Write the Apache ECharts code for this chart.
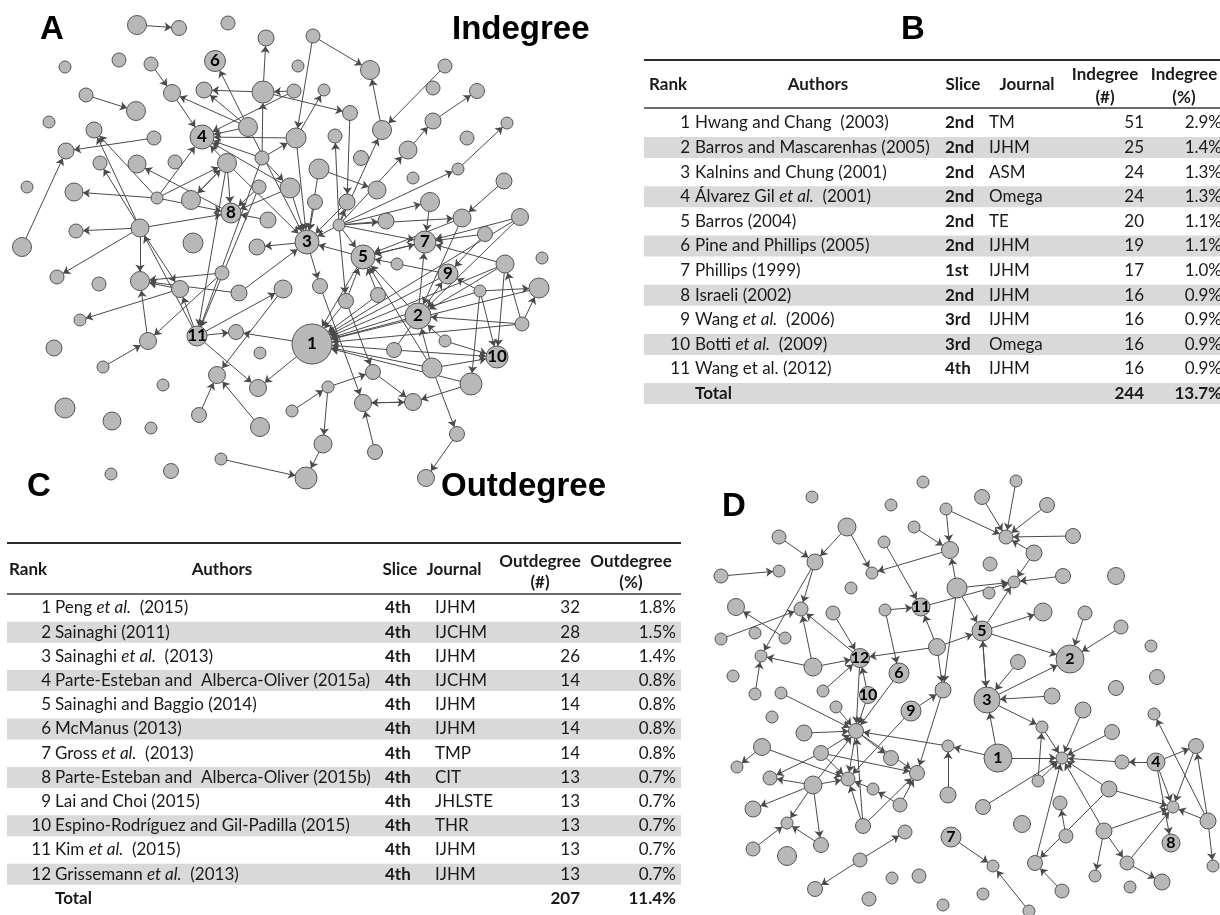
<!DOCTYPE html>
<html>
<head>
<meta charset="utf-8">
<script src="https://cdn.jsdelivr.net/npm/echarts@6/dist/echarts.min.js"></script>
<style>
  html, body { margin: 0; padding: 0; background: #ffffff; }
  #chart { width: 1220px; height: 915px; }
</style>
</head>
<body>
<div id="chart"></div>
<script>
// ---------------- Network A (indegree view): node layout [x, y, radius, label] ----------------
const nodesA = [
  [137,25,9.5],[179,28,7.5],[228,23,7],[266,38,8],[313,36,7],[370,70,9.5],[65,67,6],[119,60,7],[151,64,7],[215,61,10.5,'6'],
  [298,66,6],[445,66,7],[86,95,7],[136,111,9.5],[172,93,8.5],[204,90,8],[263,92,11],[294,91,7],[324,90,6],[433,88,7],
  [477,91,7.5],[49,122,6],[94,130,8],[202,137,12,'4'],[154,138,7],[248,127,9.5],[296,138,10],[335,136,7],[350,113,7.5],[382,130,9.5],
  [433,121,8],[507,123,6],[66,151,8],[100,163,7],[137,164,9],[175,162,7],[227,163,9.5],[262,158,7],[319,169,10],[361,158,7.5],
  [408,150,9],[467,138,7],[27,187,6],[74,192,9],[157,198,6],[191,200,9.5],[231,213,10,'8'],[259,187,7],[290,188,10],[413,178,6],
  [458,169,6],[504,181,8],[76,231,7],[140,228,9],[268,220,8],[315,202,7.5],[347,202,8],[377,190,9],[430,202,9.5],[339,225,6],
  [386,221,8],[462,218,9],[520,217,8.5],[485,234,7.5],[307,242,12,'3'],[425,242,11,'7'],[22,247,9.5],[193,243,10],[257,247,8],[363,257,12,'5'],
  [397,264,6],[448,274,10,'9'],[505,264,9],[542,258,6],[57,277,7],[99,284,7],[140,281,9.5],[180,289,8.5],[222,273,7],[239,293,8],
  [283,289,9],[320,286,7.5],[346,301,7.5],[378,295,7.5],[480,291,6],[539,288,10],[418,316,13,'2'],[522,324,7],[80,320,6],[148,341,8.5],
  [197,336,10,'11'],[236,332,7.5],[312,344,20,'1'],[394,350,7.5],[445,341,6],[497,357,11,'10'],[54,348,8],[260,353,6],[103,367,6],[217,375,8.5],
  [432,368,10],[373,372,7.5],[163,385,6],[258,388,8.5],[328,387,6],[471,384,11],[65,408,10],[112,421,9],[151,428,6],[199,415,7.5],
  [260,427,9.5],[292,411,6],[363,403,8.5],[413,402,8.5],[221,459,6],[111,474,6],[171,471,7.5],[306,478,11],[323,444,9],[375,452,7.5],
  [457,434,7.5],[426,478,8.5]
];
// citing -> cited
const linksA = [
  [0,1],[12,13],[8,14],[14,23],[16,15],[17,16],[25,9],[16,3],[25,14],[26,23],[37,23],[24,32],[53,22],[44,23],[44,43],[53,52],
  [44,36],[36,45],[45,36],[46,34],[44,46],[54,46],[47,46],[53,46],[53,33],[44,22],[37,16],
  [4,5],[4,26],[29,5],[11,29],[30,20],[40,30],[50,31],[59,29],[59,40],[59,50],[59,58],[59,60],[59,61],[59,65],[59,56],[59,64],
  [59,27],[28,56],[16,28],[26,18],[38,57],[51,61],[63,65],
  [66,32],[53,74],[53,76],[77,76],[78,76],[89,76],[77,88],[53,77],[90,77],[90,53],[90,91],[90,80],[90,103],[37,90],[47,90],
  [78,89],[98,89],[80,99],[92,91],[92,103],[109,99],[110,99],[114,117],[79,64],[79,76],
  [63,71],[72,65],[72,86],[72,92],[72,95],[87,72],[87,85],[87,86],[87,92],[84,85],[84,95],[84,105],[84,92],[84,71],[85,92],
  [65,69],[69,65],[71,69],[69,64],[64,81],[59,82],[59,69],[82,69],[83,69],[86,69],[86,65],[86,92],
  [100,86],[100,69],[100,95],[100,120],[120,121],[94,86],[94,95],[93,92],[83,92],[82,92],[81,112],[82,101],[101,113],
  [112,113],[113,112],[104,101],[104,118],[118,117],[119,112],[105,113],[105,92],[100,92],[93,95],[111,104],
  [71,92],[62,92],[61,86],[62,86],[58,65],[62,65],[61,69],[93,71],[69,92],
  [48,64],[55,64],[56,64],[26,64],[25,64],[36,64],[38,64],[17,23],[36,23],[25,23],[48,23],[36,46],[48,46],[36,90],
  [37,48],[37,26],[25,15],[64,68]
];

// ---------------- Network D (outdegree view): node layout [x, y, radius, label] ----------------
const nodesD = [
  [812,497,6],[891,505,6],[923,482,6],[946,509,6],[847,527,9],[779,537,7],[914,527,6],[884,542,6],[950,550,8.5],[815,562,8],
  [721,576,7],[779,571,6],[872,573,6],[851,588,6],[957,588,10],[736,607,8.5],[801,609,7],[833,613,7],[885,610,6],[921,607,9,'11'],
  [721,639,6],[755,633,6],[785,638,6],[937,647,8.5],[761,656,6],[813,667,9],[860,658,9.5,'12'],[899,673,10,'6'],[733,676,6],[755,694,6],
  [781,693,6],[823,691,6],[868,695,8.5,'10'],[943,690,8],[1016,481,6],[982,497,7.5],[1047,505,7.5],[1006,537,7],[1073,536,7.5],[1034,553,8],
  [990,564,7],[1014,582,6],[1063,576,7.5],[1116,576,8.5],[989,593,6],[1043,612,9],[1085,613,7],[982,631,10,'5'],[1121,627,7],[1151,646,6],
  [1070,659,14,'2'],[1018,662,7.5],[1157,677,7.5],[1116,688,7.5],[1052,696,8],[987,700,13,'3'],[911,711,10,'9'],[836,707,6],[772,717,6],[856,731,7.5],
  [804,733,8],[762,747,8.5],[821,753,7.5],[891,758,7.5],[948,746,6],[737,767,6],[917,773,7.5],[770,778,7],[848,779,7],[813,785,9],
  [873,789,6],[900,805,7],[948,795,8],[753,809,8],[787,823,6],[863,826,7.5],[905,832,7],[951,837,10,'7'],[753,849,7],[821,845,7.5],
  [787,856,9.5],[860,860,7],[892,878,6],[919,876,7],[815,889,7.5],[869,899,7],[943,905,6],[1083,710,8],[1154,714,6],[1042,727,6],
  [1112,732,7.5],[1196,746,7.5],[998,758,14,'1'],[1062,758,6],[1122,762,7],[1156,762,9,'4'],[1038,781,6],[1109,789,8],[983,807,7.5],[1060,803,7],
  [1173,807,6],[1022,824,8.5],[1208,821,8],[1066,836,7],[1104,831,8],[1171,843,9,'8'],[993,866,6],[1035,863,7.5],[1127,863,7],[1095,876,6],
  [1213,866,6],[1162,882,8],[1130,887,6],[983,894,6],[1062,891,7],[1029,911,6]
];
const linksD = [
  [4,9],[5,9],[4,12],[9,16],[9,24],[10,11],[7,19],[8,12],[3,8],[6,8],[18,19],[14,8],[19,41],[23,19],[23,26],[23,33],[14,33],
  [20,16],[22,15],[17,26],[25,16],[26,16],[25,24],[25,26],[31,26],[18,27],[32,26],[29,24],[26,59],[27,59],
  [34,37],[35,37],[36,37],[38,37],[3,37],[39,37],[39,41],[42,41],[14,41],[14,47],[47,41],[47,45],[47,50],[23,47],[55,47],[47,55],
  [46,50],[48,50],[51,55],[55,50],[54,55],
  [57,59],[32,59],[30,59],[60,59],[62,59],[69,59],[64,59],[56,33],[56,68],[33,66],[59,68],[59,63],[59,66],[61,65],[61,68],
  [62,67],[62,68],[62,66],[69,67],[69,68],[69,73],[69,74],[69,79],[70,68],[71,70],[71,66],[75,68],[75,66],[75,59],[78,74],
  [79,74],[72,64],[81,76],[81,84],[77,106],[115,106],
  [92,55],[92,93],[92,64],[55,89],[89,93],[87,93],[90,93],[94,93],[95,94],[95,91],[95,100],[95,105],[91,100],[102,91],[102,100],
  [102,88],[102,110],[97,93],[97,100],[97,107],[96,89],[96,93],[98,93],[103,99],[107,93],[114,107],[104,93],[104,100],[104,109],
  [104,108],[108,111],[108,100]
];

// ---------------- Table B: most cited documents ----------------
const inRanks = [1,2,3,4,5,6,7,8,9,10,11];
const inAuthors = ['Hwang and Chang  (2003)','Barros and Mascarenhas (2005)','Kalnins and Chung (2001)','Álvarez Gil {i|et al.}  (2001)',
  'Barros (2004)','Pine and Phillips (2005)','Phillips (1999)','Israeli (2002)','Wang {i|et al.}  (2006)','Botti {i|et al.}  (2009)','Wang et al. (2012)'];
const inSlices = ['2nd','2nd','2nd','2nd','2nd','2nd','1st','2nd','3rd','3rd','4th'];
const inJournals = ['TM','IJHM','ASM','Omega','TE','IJHM','IJHM','IJHM','IJHM','Omega','IJHM'];
const inCounts = [51,25,24,24,20,19,17,16,16,16,16];
const inShares = ['2.9%','1.4%','1.3%','1.3%','1.1%','1.1%','1.0%','0.9%','0.9%','0.9%','0.9%'];
const inTotal = ['244','13.7%'];

// ---------------- Table C: most citing documents ----------------
const outRanks = [1,2,3,4,5,6,7,8,9,10,11,12];
const outAuthors = ['Peng {i|et al.}  (2015)','Sainaghi (2011)','Sainaghi {i|et al.}  (2013)','Parte-Esteban and  Alberca-Oliver (2015a)',
  'Sainaghi and Baggio (2014)','McManus (2013)','Gross {i|et al.}  (2013)','Parte-Esteban and  Alberca-Oliver (2015b)',
  'Lai and Choi (2015)','Espino-Rodríguez and Gil-Padilla (2015)','Kim {i|et al.}  (2015)','Grissemann {i|et al.}  (2013)'];
const outSlices = ['4th','4th','4th','4th','4th','4th','4th','4th','4th','4th','4th','4th'];
const outJournals = ['IJHM','IJCHM','IJHM','IJCHM','IJHM','IJHM','TMP','CIT','JHLSTE','THR','IJHM','IJHM'];
const outCounts = [32,28,26,14,14,14,14,13,13,13,13,13];
const outShares = ['1.8%','1.5%','1.4%','0.8%','0.8%','0.8%','0.8%','0.7%','0.7%','0.7%','0.7%','0.7%'];
const outTotal = ['207','11.4%'];

// ---------------- drawing ----------------
const BAND = '#d9d9d9';
const TXT = '#1a1a1a';
const TFONT = 'Lato, "Open Sans", sans-serif';
const TSIZE = 17;
const HFONT = '"Liberation Sans", Arial, sans-serif';
const RICH = { i: { fontStyle: 'italic', fontFamily: TFONT, fontSize: TSIZE, fill: TXT } };

function txt(x, y, text, align, extra) {
  const style = Object.assign({
    text: String(text), fill: TXT, fontFamily: TFONT, fontSize: TSIZE, fontWeight: 'normal',
    textAlign: align, textVerticalAlign: 'middle', align: align, verticalAlign: 'middle'
  }, extra || {});
  return { type: 'text', x: x, y: y, silent: true, z: 10, style: style };
}

function buildTable(L, t) {
  const els = [];
  const n = t.ranks.length;
  const B = { fontWeight: 'bold' };
  for (let i = 0; i <= n; i++) {
    const banded = (i < n && i % 2 === 1) || (i === n && L.totalBand);
    if (!banded) continue;
    const cy = L.row0 + i * L.step;
    els.push({ type: 'rect', silent: true, z: 1,
      shape: { x: L.left, y: cy - L.bandH / 2, width: L.right - L.left, height: L.bandH },
      style: { fill: BAND } });
  }
  els.push({ type: 'line', silent: true, z: 2, shape: { x1: L.left, y1: L.topRule, x2: L.right, y2: L.topRule },
    style: { stroke: '#2b2b2b', lineWidth: 2 } });
  els.push({ type: 'line', silent: true, z: 2, shape: { x1: L.left, y1: L.headRule, x2: L.right, y2: L.headRule },
    style: { stroke: '#3a3a3a', lineWidth: 1.3 } });
  els.push(txt(L.rankHeadX, L.headY, 'Rank', 'left', B));
  els.push(txt(L.authHeadX, L.headY, 'Authors', 'center', B));
  els.push(txt(L.sliceHeadX, L.headY, 'Slice', 'center', B));
  els.push(txt(L.jourHeadX, L.headY, 'Journal', 'center', B));
  els.push(txt(L.numHeadX, L.headY1, t.metric, 'center', B));
  els.push(txt(L.numHeadX, L.headY2, '(#)', 'center', B));
  els.push(txt(L.pctHeadX, L.headY1, t.metric, 'center', B));
  els.push(txt(L.pctHeadX, L.headY2, '(%)', 'center', B));
  for (let i = 0; i < n; i++) {
    const cy = L.row0 + i * L.step;
    els.push(txt(L.rankX, cy, t.ranks[i], 'right'));
    els.push(txt(L.authX, cy, t.authors[i], 'left', { rich: RICH }));
    els.push(txt(L.sliceX, cy, t.slices[i], 'left', B));
    els.push(txt(L.jourX, cy, t.journals[i], 'left'));
    els.push(txt(L.numX, cy, t.counts[i], 'right'));
    els.push(txt(L.pctX, cy, t.shares[i], 'right'));
  }
  const ty = L.row0 + n * L.step;
  els.push(txt(L.authX, ty, 'Total', 'left', B));
  els.push(txt(L.numX, ty, t.total[0], 'right', B));
  els.push(txt(L.pctX, ty, t.total[1], 'right', B));
  return els;
}

const layoutB = {
  left: 644, right: 1220, topRule: 60, headRule: 108, headY: 85, headY1: 75, headY2: 98,
  row0: 123, step: 24.6, bandH: 21, totalBand: true,
  rankHeadX: 649, rankX: 690, authX: 695, authHeadX: 818, sliceX: 945, sliceHeadX: 963,
  jourX: 989, jourHeadX: 1027, numX: 1144, numHeadX: 1105, pctX: 1222, pctHeadX: 1184
};
const layoutC = {
  left: 7, right: 681, topRule: 543, headRule: 594, headY: 570, headY1: 562, headY2: 583,
  row0: 608, step: 24.2, bandH: 21, totalBand: false,
  rankHeadX: 9, rankX: 51, authX: 55, authHeadX: 222, sliceX: 385, sliceHeadX: 400,
  jourX: 435, jourHeadX: 454, numX: 580, numHeadX: 540, pctX: 676, pctHeadX: 631
};

function heading(x, y, text) {
  return { type: 'text', x: x, y: y, silent: true, z: 10,
    style: { text: text, fill: '#000', fontFamily: HFONT, fontSize: 33, fontWeight: 'bold',
      textAlign: 'left', textVerticalAlign: 'middle', align: 'left', verticalAlign: 'middle' } };
}

const graphicEls = [].concat(
  [heading(40, 30, 'A'), heading(452, 30, 'Indegree'), heading(901, 30, 'B'),
   heading(27, 487, 'C'), heading(441, 487, 'Outdegree'), heading(722, 507, 'D')],
  buildTable(layoutB, { metric: 'Indegree', ranks: inRanks, authors: inAuthors, slices: inSlices,
    journals: inJournals, counts: inCounts, shares: inShares, total: inTotal }),
  buildTable(layoutC, { metric: 'Outdegree', ranks: outRanks, authors: outAuthors, slices: outSlices,
    journals: outJournals, counts: outCounts, shares: outShares, total: outTotal })
);

// edges drawn by a graph series (invisible nodes keep arrow tips on node borders)
function edgeSeries(nodes, links, axis) {
  return {
    type: 'graph', coordinateSystem: 'cartesian2d', xAxisIndex: axis, yAxisIndex: axis,
    silent: true, z: 1, animation: false,
    data: nodes.map(function (n, i) { return { name: 'n' + axis + '_' + i, value: [n[0], n[1]], symbolSize: n[2] * 2 }; }),
    links: links.map(function (l) { return { source: l[0], target: l[1] }; }),
    itemStyle: { opacity: 0 },
    label: { show: false },
    edgeSymbol: ['none', 'arrow'], edgeSymbolSize: 7,
    lineStyle: { color: '#4a4a4a', width: 1, opacity: 1, curveness: 0 },
    emphasis: { disabled: true }
  };
}
// nodes drawn on top of the edges
function nodeSeries(nodes, axis, fontSize) {
  return {
    type: 'scatter', xAxisIndex: axis, yAxisIndex: axis, silent: true, z: 3, animation: false,
    data: nodes.map(function (n) {
      return { value: [n[0], n[1]], symbolSize: n[2] * 2,
        label: n[3] ? { show: true, formatter: n[3] } : { show: false } };
    }),
    itemStyle: { color: '#b8b8b8', borderColor: '#555555', borderWidth: 1, opacity: 1 },
    label: { position: 'inside', color: '#000', fontWeight: 'bold', fontSize: fontSize, fontFamily: TFONT },
    emphasis: { disabled: true }
  };
}

const chart = echarts.init(document.getElementById('chart'), null, { renderer: 'canvas', width: 1220, height: 915 });
chart.setOption({
  backgroundColor: '#ffffff',
  animation: false,
  grid: [
    { left: 0, top: 0, width: 600, height: 500 },
    { left: 700, top: 470, width: 520, height: 445 }
  ],
  xAxis: [
    { gridIndex: 0, type: 'value', min: 0, max: 600, show: false },
    { gridIndex: 1, type: 'value', min: 700, max: 1220, show: false }
  ],
  yAxis: [
    { gridIndex: 0, type: 'value', min: 0, max: 500, inverse: true, show: false },
    { gridIndex: 1, type: 'value', min: 470, max: 915, inverse: true, show: false }
  ],
  series: [
    edgeSeries(nodesA, linksA, 0),
    nodeSeries(nodesA, 0, 17),
    edgeSeries(nodesD, linksD, 1),
    nodeSeries(nodesD, 1, 16)
  ],
  graphic: { elements: graphicEls }
});
</script>
</body>
</html>
